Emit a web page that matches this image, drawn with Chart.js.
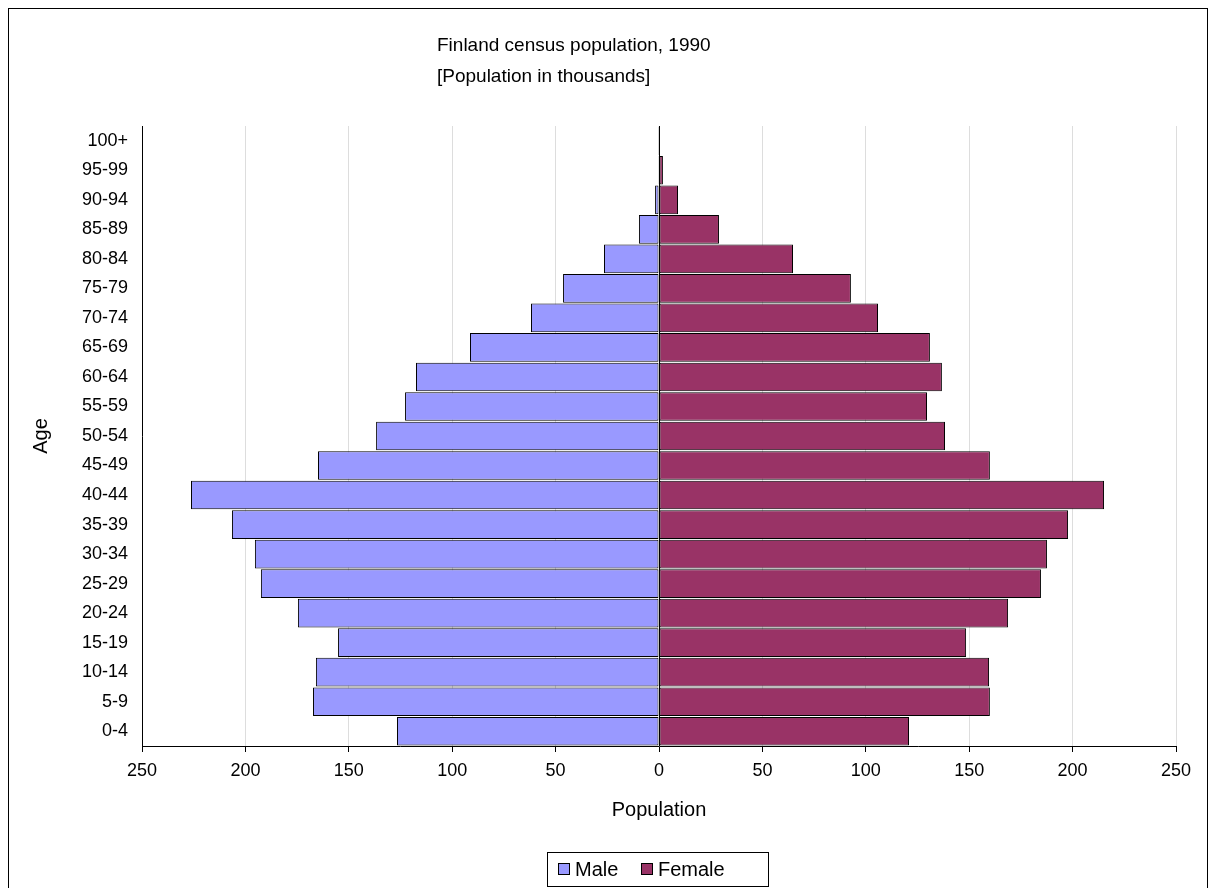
<!DOCTYPE html>
<html>
<head>
<meta charset="utf-8">
<script src="https://cdn.jsdelivr.net/npm/chart.js@4"></script>
<style>
body { margin: 0; background: #fff; }
#frame { position: absolute; left: 8px; top: 8px; width: 1198px; height: 900px; border: 1px solid #000; }
#wrap { position: absolute; left: 0; top: 0; width: 1211px; height: 888px; }
</style>
</head>
<body>
<div id="frame"></div>
<div id="wrap"><canvas id="pyramid"></canvas></div>
<script>
var ageGroups = ["0-4","5-9","10-14","15-19","20-24","25-29","30-34","35-39","40-44","45-49","50-54","55-59","60-64","65-69","70-74","75-79","80-84","85-89","90-94","95-99","100+"];
var maleValues = [126.7,167.3,165.9,155.2,174.6,192.5,195.4,206.5,226.3,164.9,136.8,122.8,117.5,91.4,61.9,46.4,26.6,9.7,1.9,0.4,0.05];
var femaleValues = [120.9,160,159.6,148.5,168.8,184.7,187.6,197.8,215.2,160,138.3,129.6,136.8,131,105.9,92.8,64.8,29,9.2,1.9,0.3];
var titleLines = ["Finland census population, 1990", "[Population in thousands]"];

var FONT = "'Liberation Sans', Arial, sans-serif";
Chart.defaults.font.family = FONT;
Chart.defaults.font.size = 18;
Chart.defaults.color = "#000";

// draws the title and the boxed legend //
var extras = {
    id: "extras",
    afterDraw: function(chart) {
        var ctx = chart.ctx;
        ctx.save();
        ctx.fillStyle = "#000";
        ctx.font = "19px " + FONT;
        ctx.textBaseline = "middle";
        ctx.textAlign = "left";
        ctx.fillText(titleLines[0], 437, 46);
        ctx.fillText(titleLines[1], 437, 77);

        ctx.strokeStyle = "#000";
        ctx.lineWidth = 1;
        ctx.strokeRect(547.5, 852.5, 221, 34);
        ctx.fillStyle = "#9999FF";
        ctx.fillRect(558, 863, 12, 12);
        ctx.strokeRect(558.5, 863.5, 11, 11);
        ctx.fillStyle = "#993366";
        ctx.fillRect(641, 863, 12, 12);
        ctx.strokeRect(641.5, 863.5, 11, 11);
        ctx.fillStyle = "#000";
        ctx.font = "20px " + FONT;
        ctx.fillText("Male", 575, 870);
        ctx.fillText("Female", 658, 870);
        ctx.restore();
    }
};

var chart = new Chart(document.getElementById("pyramid"), {
    type: "bar",
    data: {
        labels: ageGroups,
        datasets: [
            { label: "Male", data: maleValues.map(function(v) { return -v; }), backgroundColor: "#9999FF", borderColor: "#000", borderWidth: 1, borderSkipped: false },
            { label: "Female", data: femaleValues, backgroundColor: "#993366", borderColor: "#000", borderWidth: 1, borderSkipped: false }
        ]
    },
    options: {
        indexAxis: "y",
        responsive: true,
        maintainAspectRatio: false,
        animation: false,
        layout: { padding: { top: 126, left: 25, right: 35, bottom: 62 } },
        datasets: { bar: { categoryPercentage: 1.0, barPercentage: 0.97 } },
        plugins: { legend: { display: false }, tooltip: { enabled: false } },
        scales: {
            x: {
                stacked: true,
                min: -250, max: 250,
                ticks: { stepSize: 50, padding: 8, callback: function(v) { return Math.abs(v); } },
                grid: {
                    color: function(c) { return c.tick && c.tick.value === 0 ? "#000" : "#dddddd"; },
                    tickColor: "#000", tickLength: 6, drawTicks: true
                },
                border: { color: "#000" },
                title: { display: true, text: "Population", font: { size: 20 }, padding: { top: 10 } },
                afterFit: function(s) { s.height = 80; }
            },
            y: {
                stacked: true,
                reverse: true,
                ticks: { padding: 8 },
                grid: { display: false, drawTicks: true, tickLength: 6 },
                border: { color: "#000" },
                title: { display: true, text: "Age", font: { size: 20 } },
                afterFit: function(s) { s.width = 117; }
            }
        }
    },
    plugins: [extras]
});
</script>
</body>
</html>
